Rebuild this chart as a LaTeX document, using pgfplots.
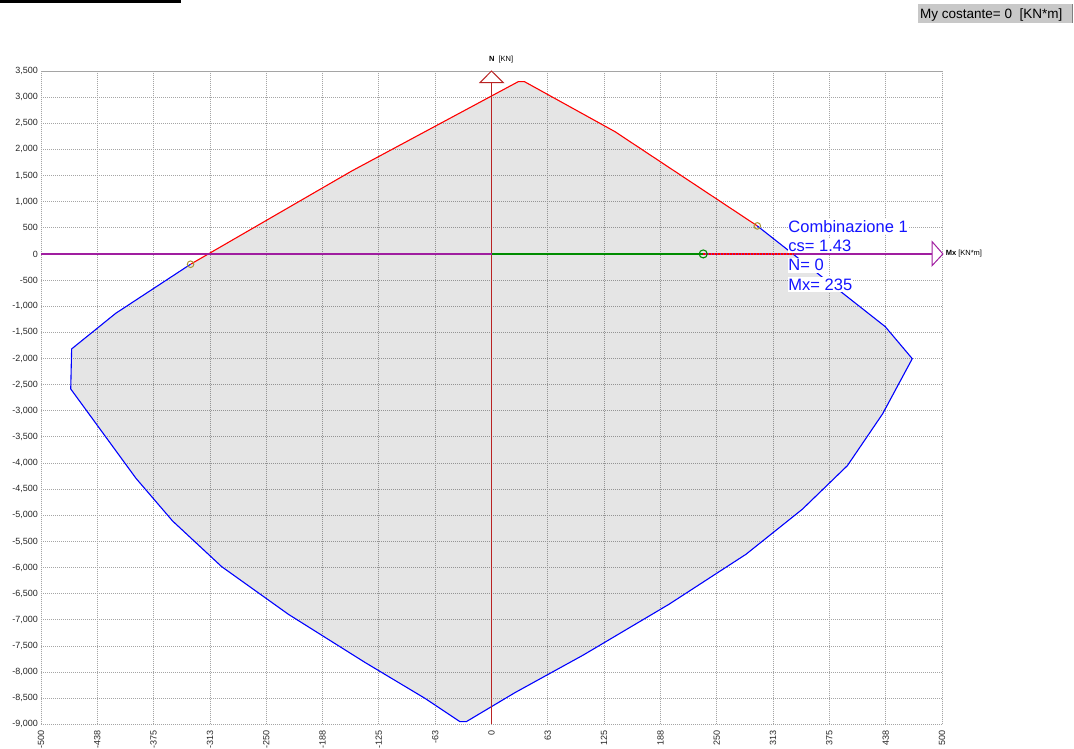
\documentclass[border=0pt]{standalone}
\usepackage{fontspec}
\setmainfont{Liberation Sans}
\usepackage{pgfplots}
\pgfplotsset{compat=1.18}
\definecolor{naxis}{RGB}{185,35,35}
\definecolor{maxis}{RGB}{160,30,160}
\definecolor{gridc}{RGB}{165,165,165}
\definecolor{olivec}{RGB}{170,150,50}
\definecolor{greenc}{RGB}{0,140,0}
\definecolor{boxgray}{RGB}{200,200,200}
\definecolor{labblue}{RGB}{20,20,255}
\begin{document}
\begin{tikzpicture}[x=1pt,y=1pt]
\useasboundingbox (0,0) rectangle (1074,749);
\fill[black] (0,746) rectangle (181,749);
\fill[boxgray] (918,726) rectangle (1072,745);
\draw[gray, line width=0.8pt] (1072,726) -- (1072,745);
\node[anchor=base west, inner sep=0pt, font=\fontsize{13.5}{15}\selectfont] at (920,730.5) {My costante= 0\ \ [KN*m]};
\begin{axis}[
  at={(41pt,24.6pt)}, anchor=south west,
  scale only axis, width=901pt, height=653.4pt,
  xmin=-500, xmax=500, ymin=-9000, ymax=3500,
  clip=false,
  xtick={-500,-437.5,-375,-312.5,-250,-187.5,-125,-62.5,0,62.5,125,187.5,250,312.5,375,437.5,500},
  xticklabels={-500,-438,-375,-313,-250,-188,-125,-63,0,63,125,188,250,313,375,438,500},
  ytick={-9000,-8500,-8000,-7500,-7000,-6500,-6000,-5500,-5000,-4500,-4000,-3500,-3000,-2500,-2000,-1500,-1000,-500,0,500,1000,1500,2000,2500,3000,3500},
  grid=major,
  major grid style={gridc, dash pattern=on 1pt off 1pt, line width=0.8pt},
  axis line style={gridc, dash pattern=on 1pt off 1pt, line width=0.8pt},
  major tick length=0pt,
  tick label style={font=\fontsize{9}{10}\selectfont, inner sep=0pt, text=black!85},
  xticklabel style={rotate=90, anchor=east},
  xticklabel shift=6pt,
  yticklabel shift=3pt,
  /pgf/number format/.cd, 1000 sep={,}, assume math mode=true,
]
% domain fill
\addplot[draw=none, fill=black, fill opacity=0.1] coordinates {
(-334,-197) (-155,1588) (29.7,3296) (36.6,3296) (137,2340) (295,536)
(437,-1391) (467,-2004) (434,-3061) (395,-4050) (345,-4884) (282.5,-5745)
(197,-6702) (102,-7672) (26,-8393) (-28,-8948) (-35,-8948) (-74,-8500)
(-140,-7819) (-225.5,-6893) (-299.5,-5982) (-354,-5108) (-394.6,-4292)
(-467,-2583) (-466,-1817) (-417,-1135) (-334,-197)};
% red boundary part
\addplot[red, line width=1.1pt] coordinates {
(-334,-197) (-155,1588) (29.7,3296) (36.6,3296) (137,2340) (295,536)};
% blue boundary part
\addplot[blue, line width=1.1pt] coordinates {
(295,536) (437,-1391) (467,-2004) (434,-3061) (395,-4050) (345,-4884) (282.5,-5745)
(197,-6702) (102,-7672) (26,-8393) (-28,-8948) (-35,-8948) (-74,-8500)
(-140,-7819) (-225.5,-6893) (-299.5,-5982) (-354,-5108) (-394.6,-4292)
(-467,-2583) (-466,-1817) (-417,-1135) (-334,-197)};
% N axis
\draw[naxis, line width=1.6pt, solid] (axis cs:0,-9000) -- (axis cs:0,3277);
\draw[naxis, fill=white, line width=1pt] (axis cs:-12.8,3277) -- (axis cs:13.1,3277) -- (axis cs:0,3500) -- cycle;
% Mx axis
\draw[maxis, line width=1.3pt] (axis cs:-500,0) -- (axis cs:489,0);
\draw[maxis, fill=white, line width=1pt] (axis cs:489,235) -- (axis cs:489,-224) -- (axis cs:501,0) -- cycle;
% green and red on Mx
\addplot[greenc, line width=1.5pt] coordinates {(0,0) (235,0)};
\addplot[red, line width=1.3pt, dash pattern=on 2pt off 1pt] coordinates {(235,0) (335,0)};
% points
\addplot[only marks, mark=o, mark size=3.3pt, olivec, mark options={line width=1pt}] coordinates {(-334,-197) (295,536)};
\addplot[only marks, mark=o, mark size=4pt, greenc, mark options={line width=1.1pt}] coordinates {(235,0)};
% axis labels
\node[anchor=west, font=\fontsize{7.5}{9}\selectfont, inner sep=0pt] at (axis cs:-3,3711) {\textbf{N}\ \ [KN]};
\node[anchor=west, font=\fontsize{7.5}{9}\selectfont, inner sep=0pt] at (axis cs:504,0) {\textbf{Mx}\ [KN*m]};
% info text
\node[anchor=base west, fill=white, inner xsep=0pt, inner ysep=1.5pt, text=labblue, font=\fontsize{16.5}{19}\selectfont] at (axis cs:329.4,415) {Combinazione 1};
\node[anchor=base west, fill=white, inner xsep=0pt, inner ysep=1.5pt, text=labblue, font=\fontsize{16.5}{19}\selectfont] at (axis cs:329.4,44) {cs= 1.43};
\node[anchor=base west, fill=white, inner xsep=0pt, inner ysep=1.5pt, text=labblue, font=\fontsize{16.5}{19}\selectfont] at (axis cs:329.4,-325) {N= 0};
\node[anchor=base west, fill=white, inner xsep=0pt, inner ysep=1.5pt, text=labblue, font=\fontsize{16.5}{19}\selectfont] at (axis cs:329.4,-698) {Mx= 235};
\end{axis}
\end{tikzpicture}
\end{document}
